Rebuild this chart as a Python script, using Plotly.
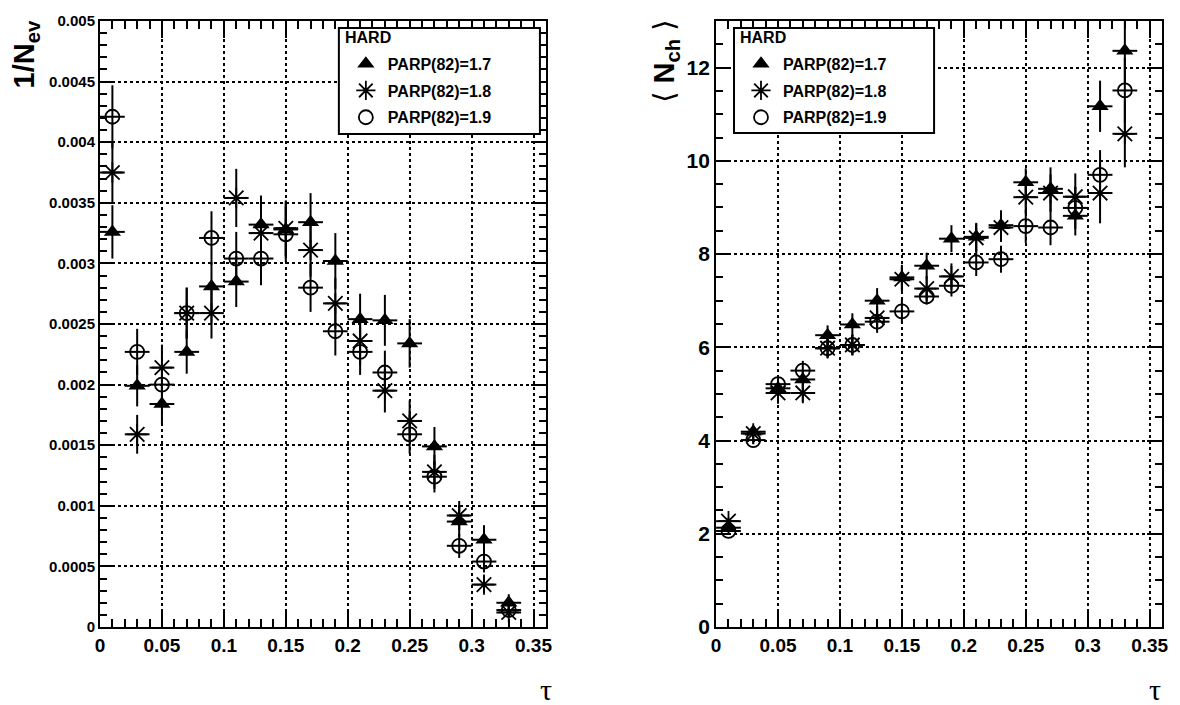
import plotly.graph_objects as go

# ---------------- data ----------------
tau = [0.01, 0.03, 0.05, 0.07, 0.09, 0.11, 0.13, 0.15, 0.17,
       0.19, 0.21, 0.23, 0.25, 0.27, 0.29, 0.31, 0.33]
tau_halfwidth = 0.01

labels = ["PARP(82)=1.7", "PARP(82)=1.8", "PARP(82)=1.9"]
legend_title = "HARD"

# left panel: 1/N_ev
nev_17 = [0.00326, 0.00199, 0.00184, 0.00227, 0.00281, 0.00285, 0.00332, 0.00328, 0.00334,
          0.00302, 0.00254, 0.00253, 0.00234, 0.00149, 0.00087, 0.00072, 0.00020]
nev_17_err = [0.00022, 0.00017, 0.00017, 0.00018, 0.00020, 0.00021, 0.00024, 0.00023, 0.00024,
              0.00023, 0.00021, 0.00021, 0.00020, 0.00016, 0.00013, 0.00012, 0.00007]
nev_18 = [0.00375, 0.00159, 0.00214, 0.00259, 0.00259, 0.00354, 0.00325, 0.00329, 0.00311,
          0.00267, 0.00236, 0.00195, 0.00170, 0.00128, 0.00092, 0.00035, 0.00012]
nev_18_err = [0.00025, 0.00016, 0.00019, 0.00021, 0.00021, 0.00024, 0.00023, 0.00023, 0.00022,
              0.00021, 0.00020, 0.00018, 0.00017, 0.00014, 0.00012, 0.00007, 0.00004]
nev_19 = [0.00421, 0.00227, 0.00200, 0.00259, 0.00321, 0.00304, 0.00304, 0.00324, 0.00280,
          0.00244, 0.00227, 0.00210, 0.00159, 0.00124, 0.00067, 0.00054, 0.00014]
nev_19_err = [0.00026, 0.00019, 0.00018, 0.00021, 0.00022, 0.00022, 0.00022, 0.00023, 0.00020,
              0.00020, 0.00019, 0.00018, 0.00016, 0.00013, 0.00010, 0.00009, 0.00005]

# right panel: <N_ch>
nch_17 = [2.13, 4.19, 5.12, 5.31, 6.26, 6.49, 7.00, 7.50, 7.75,
          8.33, 8.37, 8.62, 9.54, 9.40, 8.82, 11.17, 12.36]
nch_17_err = [0.08, 0.09, 0.18, 0.20, 0.21, 0.24, 0.27, 0.27, 0.28,
              0.29, 0.30, 0.32, 0.30, 0.46, 0.42, 0.55, 0.72]
nch_18 = [2.27, 4.15, 5.02, 5.02, 5.98, 6.05, 6.63, 7.46, 7.26,
          7.52, 8.35, 8.57, 9.22, 9.31, 9.23, 9.31, 10.58]
nch_18_err = [0.08, 0.09, 0.23, 0.20, 0.20, 0.22, 0.25, 0.27, 0.27,
              0.28, 0.30, 0.31, 0.35, 0.40, 0.50, 0.65, 0.72]
nch_19 = [2.06, 4.01, 5.21, 5.50, 5.98, 6.05, 6.55, 6.77, 7.09,
          7.32, 7.82, 7.89, 8.60, 8.57, 8.99, 9.70, 11.51]
nch_19_err = [0.08, 0.09, 0.18, 0.21, 0.20, 0.22, 0.24, 0.25, 0.17,
              0.23, 0.29, 0.29, 0.36, 0.38, 0.45, 0.53, 0.70]

x_tickvals = [0, 0.05, 0.1, 0.15, 0.2, 0.25, 0.3, 0.35]
x_ticktext = ["0", "0.05", "0.1", "0.15", "0.2", "0.25", "0.3", "0.35"]
yl_tickvals = [0, 0.0005, 0.001, 0.0015, 0.002, 0.0025, 0.003, 0.0035, 0.004, 0.0045, 0.005]
yl_ticktext = ["0", "0.0005", "0.001", "0.0015", "0.002", "0.0025", "0.003", "0.0035",
               "0.004", "0.0045", "0.005"]
yr_tickvals = [0, 2, 4, 6, 8, 10, 12]
yr_ticktext = ["0", "2", "4", "6", "8", "10", "12"]

# ---------------- figure ----------------
FONT = "Liberation Sans, Arial, Helvetica, sans-serif"
W, H = 1180, 705
ML, MR, MT, MB = 100, 13, 15, 78
PW, PH = W - ML - MR, H - MT - MB


def px_x(p):
    return (p - ML) / PW


def px_y(p):
    return (H - MB - p) / PH


styles = [
    dict(symbol="triangle-up", size=15, color="black", line=dict(width=0)),
    dict(symbol="asterisk-open", size=17, color="black", line=dict(width=1.8, color="black")),
    dict(symbol="circle-open", size=14, color="black", line=dict(width=1.8, color="black")),
]

fig = go.Figure()

left_sets = [(nev_17, nev_17_err), (nev_18, nev_18_err), (nev_19, nev_19_err)]
right_sets = [(nch_17, nch_17_err), (nch_18, nch_18_err), (nch_19, nch_19_err)]

for i, (vals, errs) in enumerate(left_sets):
    fig.add_trace(go.Scatter(
        x=tau, y=vals, mode="markers", name="<b>%s</b>" % labels[i],
        marker=styles[i], xaxis="x", yaxis="y", legend="legend", legendgroup="L%d" % i,
        error_y=dict(type="data", array=errs, color="black", thickness=2, width=0),
        error_x=dict(type="constant", value=tau_halfwidth, color="black", thickness=2, width=0),
    ))
for i, (vals, errs) in enumerate(right_sets):
    fig.add_trace(go.Scatter(
        x=tau, y=vals, mode="markers", name="<b>%s</b>" % labels[i],
        marker=styles[i], xaxis="x2", yaxis="y2", legend="legend2", legendgroup="R%d" % i,
        error_y=dict(type="data", array=errs, color="black", thickness=2, width=0),
        error_x=dict(type="constant", value=tau_halfwidth, color="black", thickness=2, width=0),
    ))

common_x = dict(
    range=[0, 0.36], tickvals=x_tickvals, ticktext=x_ticktext,
    ticks="inside", ticklen=17, tickwidth=2, tickcolor="black",
    showline=True, linecolor="black", linewidth=2, mirror="ticks",
    showgrid=True, gridcolor="black", griddash="dot", gridwidth=1.5,
    zeroline=False,
    tickfont=dict(family=FONT, size=19, color="black", weight="bold"),
    minor=dict(dtick=0.01, tick0=0, ticks="inside", ticklen=8, tickwidth=2,
               tickcolor="black", showgrid=False),
)
common_y = dict(
    ticks="inside", ticklen=15, tickwidth=2, tickcolor="black",
    showline=True, linecolor="black", linewidth=2, mirror="ticks",
    showgrid=True, gridcolor="black", griddash="dot", gridwidth=1.5,
    zeroline=False,
)

legend_common = dict(
    xanchor="left", yanchor="top", itemwidth=34,
    bgcolor="rgba(0,0,0,0)", borderwidth=0, tracegroupgap=3,
    font=dict(family=FONT, size=16, color="black"),
)

fig.update_layout(
    width=W, height=H,
    margin=dict(l=ML, r=MR, t=MT, b=MB),
    paper_bgcolor="white", plot_bgcolor="white",
    xaxis=dict(domain=[0, px_x(548)], anchor="y", **common_x),
    xaxis2=dict(domain=[px_x(719), 1.0], anchor="y2", **common_x),
    yaxis=dict(domain=[0, 1], anchor="x", range=[0, 0.005],
               tickvals=yl_tickvals, ticktext=yl_ticktext,
               tickfont=dict(family=FONT, size=15, color="black", weight="bold"),
               minor=dict(dtick=0.0001, tick0=0, ticks="inside", ticklen=7, tickwidth=2,
                          tickcolor="black", showgrid=False),
               **common_y),
    yaxis2=dict(domain=[0, 1], anchor="x2", range=[0, 13],
                tickvals=yr_tickvals, ticktext=yr_ticktext,
                tickfont=dict(family=FONT, size=21, color="black", weight="bold"),
                minor=dict(dtick=0.5, tick0=0, ticks="inside", ticklen=7, tickwidth=2,
                           tickcolor="black", showgrid=False),
                **common_y),
    legend=dict(x=px_x(345), y=px_y(41), **legend_common),
    legend2=dict(x=px_x(742), y=px_y(41), **legend_common),
    shapes=[
        dict(type="rect", xref="paper", yref="paper", layer="above",
             x0=px_x(340), x1=px_x(542), y0=px_y(129), y1=px_y(22),
             fillcolor="white", line=dict(color="black", width=2)),
        dict(type="rect", xref="paper", yref="paper", layer="above",
             x0=px_x(737), x1=px_x(938), y0=px_y(128), y1=px_y(22),
             fillcolor="white", line=dict(color="black", width=2)),
    ],
    annotations=[
        dict(text="<b>%s</b>" % legend_title, xref="paper", yref="paper",
             x=px_x(344), y=px_y(32), xanchor="left", yanchor="middle", showarrow=False,
             font=dict(family=FONT, size=16, color="black")),
        dict(text="<b>%s</b>" % legend_title, xref="paper", yref="paper",
             x=px_x(741), y=px_y(32), xanchor="left", yanchor="middle", showarrow=False,
             font=dict(family=FONT, size=16, color="black")),
        dict(text="<b>1/N<sub>ev</sub></b>", textangle=-90, xref="paper", yref="paper",
             x=px_x(26), y=px_y(12), xanchor="center", yanchor="top", showarrow=False,
             font=dict(family=FONT, size=29, color="black")),
        dict(text="\u27e8 <b>N<sub>ch</sub></b> \u27e9", textangle=-90, xref="paper", yref="paper",
             x=px_x(668), y=px_y(12), xanchor="center", yanchor="top", showarrow=False,
             font=dict(family=FONT + ", DejaVu Sans", size=29, color="black")),
        dict(text="\u03c4", xref="paper", yref="paper",
             x=px_x(556), y=px_y(690), xanchor="right", yanchor="middle", showarrow=False,
             font=dict(family="Liberation Serif, Times New Roman, serif", size=30, color="black")),
        dict(text="\u03c4", xref="paper", yref="paper",
             x=px_x(1168), y=px_y(690), xanchor="right", yanchor="middle", showarrow=False,
             font=dict(family="Liberation Serif, Times New Roman, serif", size=30, color="black")),
    ],
)

fig.write_html("out.html")
